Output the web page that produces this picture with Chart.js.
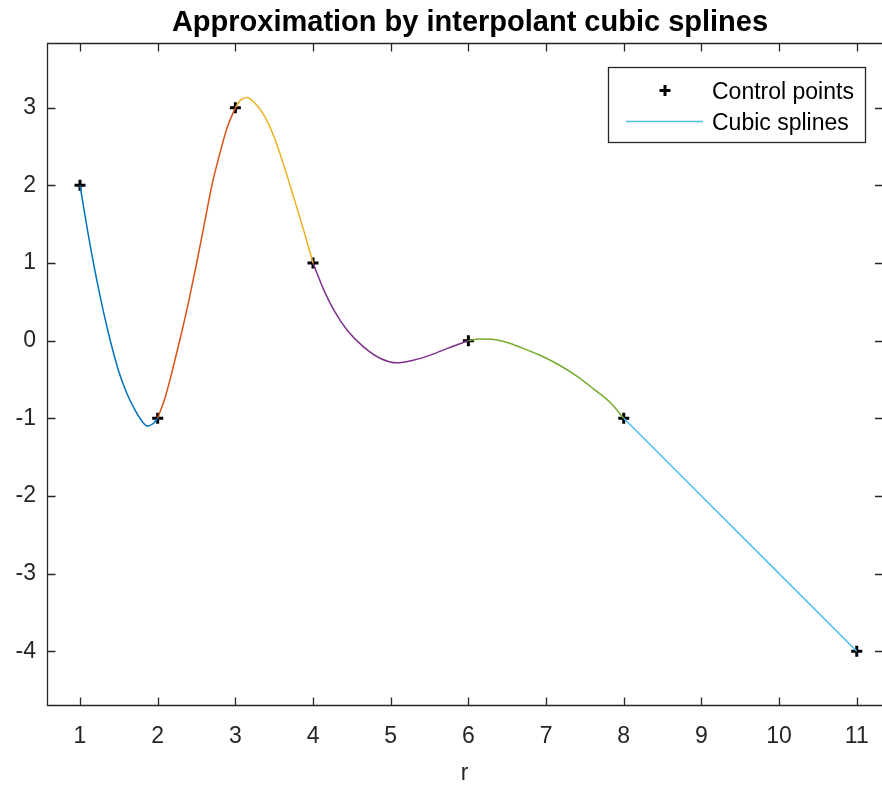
<!DOCTYPE html>
<html>
<head>
<meta charset="utf-8">
<script src="https://cdn.jsdelivr.net/npm/chart.js@4.4.1/dist/chart.umd.min.js"></script>
<style>
  html, body { margin: 0; padding: 0; background: #fff; }
  #wrap { width: 882px; height: 787px; }
</style>
</head>
<body>
<div id="wrap"><canvas id="chart" width="882" height="787"></canvas></div>
<script>
// control points of the interpolation
const controlX = [1, 2, 3, 4, 6, 8, 11];
const controlY = [2, -1, 3, 1, 0, -1, -4];

// spline pieces as [x, y]
const spline1 = [[1.0, 2.0], [1.1, 1.4], [1.2, 0.86], [1.3, 0.38], [1.4, -0.04], [1.5, -0.4],
  [1.6, -0.67], [1.7, -0.88], [1.8, -1.04], [1.87, -1.1], [1.94, -1.07], [2.0, -1.0]];
const spline2 = [[2.0, -1.0], [2.1, -0.72], [2.2, -0.34], [2.3, 0.07], [2.4, 0.51], [2.5, 0.99],
  [2.6, 1.5], [2.7, 2.01], [2.8, 2.41], [2.9, 2.76], [3.0, 3.0]];
const spline3 = [[3.0, 3.0], [3.07, 3.1], [3.15, 3.13], [3.25, 3.06], [3.37, 2.9], [3.5, 2.62],
  [3.62, 2.27], [3.75, 1.85], [3.88, 1.42], [4.0, 1.0]];
const spline4 = [[4.0, 1.0], [4.05, 0.87], [4.14, 0.65], [4.27, 0.39], [4.44, 0.135], [4.65, -0.08],
  [4.87, -0.23], [5.08, -0.286], [5.3, -0.25], [5.51, -0.187], [5.73, -0.1], [6.0, 0.0]];
const spline5 = [[6.0, 0.0], [6.15, 0.02], [6.33, 0.015], [6.54, -0.036], [6.76, -0.122], [6.97, -0.21],
  [7.18, -0.32], [7.4, -0.46], [7.61, -0.62], [7.83, -0.8], [8.0, -1.0]];
const spline6 = [[8.0, -1.0], [9.0, -2.0], [10.0, -3.0], [11.0, -4.0]];

const xTicks = [1, 2, 3, 4, 5, 6, 7, 8, 9, 10, 11];
const yTicks = [-4, -3, -2, -1, 0, 1, 2, 3];

const titleText = "Approximation by interpolant cubic splines";
const splineColors = ["#0072BD", "#D95319", "#EDB120", "#7E2F8E", "#77AC30", "#4DBEEE"];
const axisColor = "#262626";
const FONT = "'Liberation Sans', Arial, Helvetica, sans-serif";

function toPoints(pairs) {
  return pairs.map(([x, y]) => ({ x, y }));
}

const splineSets = [spline1, spline2, spline3, spline4, spline5, spline6].map((pairs, index) => ({
  label: "Cubic splines",
  data: toPoints(pairs),
  borderColor: splineColors[index],
  borderWidth: 1.5,
  pointRadius: 0,
  showLine: true,
  fill: false,
  cubicInterpolationMode: "monotone",
  order: 0,
}));

const controlSet = {
  label: "Control points",
  data: controlX.map((x, index) => ({ x, y: controlY[index] })),
  pointStyle: "cross",
  pointRadius: 5.5,
  pointBorderWidth: 3,
  pointBorderColor: "#000",
  pointBackgroundColor: "#000",
  showLine: false,
  order: 1,
};

// title centred over the axes like MATLAB does
const axesTitle = {
  id: "axesTitle",
  afterDraw(chart) {
    const { ctx } = chart;
    ctx.save();
    ctx.fillStyle = "#000";
    ctx.font = "bold 29px " + FONT;
    ctx.textAlign = "center";
    ctx.textBaseline = "alphabetic";
    ctx.fillText(titleText, 470, 31);
    ctx.restore();
  },
};

// MATLAB-like box with inward ticks
const axesBox = {
  id: "axesBox",
  afterDatasetsDraw(chart) {
    const { ctx, chartArea } = chart;
    const xs = chart.scales.x;
    const ys = chart.scales.y;
    const left = Math.round(chartArea.left) + 0.5;
    const right = chartArea.right + 1;
    const top = Math.round(chartArea.top) + 0.5;
    const bottom = Math.round(chartArea.bottom) - 0.5;
    const tick = 8;

    ctx.save();
    ctx.strokeStyle = axisColor;
    ctx.lineWidth = 1.3;
    ctx.beginPath();
    ctx.moveTo(right, top);
    ctx.lineTo(left, top);
    ctx.lineTo(left, bottom);
    ctx.lineTo(right, bottom);

    xTicks.forEach((value) => {
      const px = Math.round(xs.getPixelForValue(value)) + 0.5;
      ctx.moveTo(px, bottom);
      ctx.lineTo(px, bottom - tick);
      ctx.moveTo(px, top);
      ctx.lineTo(px, top + tick);
    });
    yTicks.forEach((value) => {
      const py = Math.round(ys.getPixelForValue(value)) + 0.5;
      ctx.moveTo(left, py);
      ctx.lineTo(left + tick, py);
      ctx.moveTo(right, py);
      ctx.lineTo(right - tick, py);
    });
    ctx.stroke();
    ctx.restore();
  },
};

const boxLegend = {
  id: "boxLegend",
  afterDraw(chart) {
    const { ctx } = chart;
    const box = { x: 608.5, y: 67.5, w: 257, h: 75 };

    ctx.save();
    ctx.fillStyle = "#fff";
    ctx.fillRect(box.x, box.y, box.w, box.h);
    ctx.strokeStyle = axisColor;
    ctx.lineWidth = 1.3;
    ctx.strokeRect(box.x, box.y, box.w, box.h);

    // marker entry
    ctx.strokeStyle = "#000";
    ctx.lineWidth = 3;
    ctx.beginPath();
    ctx.moveTo(659.5, 90.5);
    ctx.lineTo(670.5, 90.5);
    ctx.moveTo(665, 85);
    ctx.lineTo(665, 96);
    ctx.stroke();

    // line entry
    ctx.strokeStyle = splineColors[5];
    ctx.lineWidth = 1.5;
    ctx.beginPath();
    ctx.moveTo(626, 121.5);
    ctx.lineTo(703, 121.5);
    ctx.stroke();

    ctx.fillStyle = "#000";
    ctx.font = "23px " + FONT;
    ctx.textAlign = "left";
    ctx.textBaseline = "alphabetic";
    ctx.fillText(controlSet.label, 712, 99);
    ctx.fillText(splineSets[5].label, 712, 130);
    ctx.restore();
  },
};

new Chart(document.getElementById("chart"), {
  type: "scatter",
  data: {
    datasets: [...splineSets, controlSet],
  },
  options: {
    responsive: false,
    animation: false,
    layout: { autoPadding: false, padding: { top: 43, right: 0, left: 0, bottom: 0 } },
    plugins: {
      legend: { display: false },
      tooltip: { enabled: false },
      title: { display: false },
    },
    scales: {
      x: {
        type: "linear",
        min: 0.575,
        max: 11.325,
        afterBuildTicks: (scale) => {
          scale.ticks = xTicks.map((value) => ({ value }));
        },
        afterFit: (scale) => {
          scale.height = 81;
          scale.paddingLeft = 0;
          scale.paddingRight = 0;
        },
        grid: { display: false, drawTicks: false },
        border: { display: false },
        ticks: {
          color: axisColor,
          padding: 17,
          maxRotation: 0,
          autoSkip: false,
          font: { family: FONT, size: 23 },
        },
        title: {
          display: true,
          text: "r",
          color: axisColor,
          font: { family: FONT, size: 23 },
          padding: { top: 0, bottom: 0 },
        },
      },
      y: {
        type: "linear",
        min: -4.705,
        max: 3.833,
        afterBuildTicks: (scale) => {
          scale.ticks = yTicks.map((value) => ({ value }));
        },
        afterFit: (scale) => {
          scale.width = 47;
          scale.paddingTop = 0;
          scale.paddingBottom = 0;
        },
        grid: { display: false, drawTicks: false },
        border: { display: false },
        ticks: {
          color: axisColor,
          padding: 11,
          autoSkip: false,
          font: { family: FONT, size: 23 },
        },
      },
    },
  },
  plugins: [axesTitle, axesBox, boxLegend],
});
</script>
</body>
</html>
